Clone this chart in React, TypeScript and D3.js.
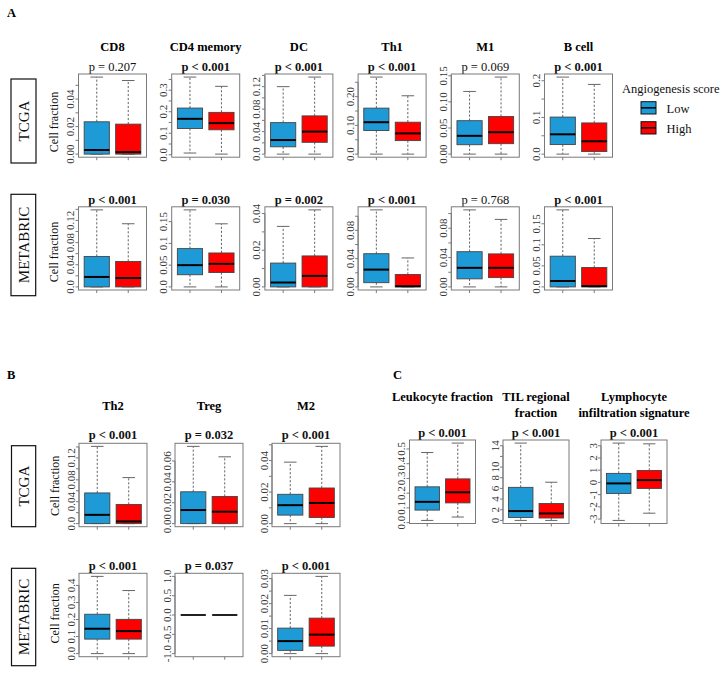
import React from "react";
import * as d3 from "d3";

// ---------------- DATA ----------------
// stats per group: [lower whisker, Q1, median, Q3, upper whisker]
const groupNames = ["Low", "High"];
const legendTitle = "Angiogenesis score";

// Panel A
const cellsA = ["CD8", "CD4 memory", "DC", "Th1", "M1", "B cell"];
const pA_tcga = ["p = 0.207", "p < 0.001", "p < 0.001", "p < 0.001", "p = 0.069", "p < 0.001"];
const lowA_tcga = [
  [0, 0, 0.003, 0.0235, 0.056],
  [0.008, 0.122, 0.167, 0.217, 0.361],
  [0, 0.013, 0.025, 0.056, 0.12],
  [0, 0.082, 0.111, 0.16, 0.268],
  [0, 0.018, 0.035, 0.064, 0.12],
  [0, 0.026, 0.054, 0.101, 0.21],
];
const highA_tcga = [
  [0, 0, 0.0015, 0.0218, 0.0535],
  [0.003, 0.116, 0.147, 0.197, 0.318],
  [0, 0.021, 0.04, 0.068, 0.137],
  [0, 0.047, 0.072, 0.111, 0.203],
  [0, 0.02, 0.042, 0.072, 0.1475],
  [0, 0.007, 0.035, 0.085, 0.19],
];
const ticksA_tcga = [
  [0, 0.01, 0.02, 0.03, 0.04, 0.05],
  [0, 0.05, 0.1, 0.15, 0.2, 0.25, 0.3, 0.35],
  [0, 0.02, 0.04, 0.06, 0.08, 0.1, 0.12, 0.14],
  [0, 0.05, 0.1, 0.15, 0.2, 0.25],
  [0, 0.05, 0.1, 0.15],
  [0, 0.05, 0.1, 0.15, 0.2],
];
const tickLabelsA_tcga = [
  ["0.00", "", "0.02", "", "0.04", ""],
  ["0.0", "", "0.1", "", "0.2", "", "0.3", ""],
  ["0.0", "", "0.04", "", "0.08", "", "0.12", ""],
  ["0.0", "", "0.10", "", "0.20", ""],
  ["0.00", "0.05", "0.10", "0.15"],
  ["0.0", "", "0.1", "", "0.2"],
];

const pA_meta = ["p < 0.001", "p = 0.030", "p = 0.002", "p < 0.001", "p = 0.768", "p < 0.001"];
const lowA_meta = [
  [0, 0, 0.018, 0.055, 0.139],
  [0, 0.028, 0.05, 0.088, 0.177],
  [0, 0, 0.0024, 0.013, 0.033],
  [0, 0.006, 0.0245, 0.047, 0.109],
  [0, 0.011, 0.026, 0.048, 0.105],
  [0, 0, 0.014, 0.073, 0.183],
];
const highA_meta = [
  [0, 0, 0.016, 0.046, 0.114],
  [0, 0.033, 0.053, 0.078, 0.145],
  [0, 0, 0.006, 0.0169, 0.042],
  [0, 0, 0.001, 0.0175, 0.041],
  [0, 0.0127, 0.026, 0.045, 0.092],
  [0, 0, 0.002, 0.046, 0.115],
];
const ticksA_meta = [
  [0, 0.02, 0.04, 0.06, 0.08, 0.1, 0.12, 0.14],
  [0, 0.05, 0.1, 0.15],
  [0, 0.01, 0.02, 0.03, 0.04],
  [0, 0.02, 0.04, 0.06, 0.08, 0.1],
  [0, 0.02, 0.04, 0.06, 0.08, 0.1],
  [0, 0.05, 0.1, 0.15],
];
const tickLabelsA_meta = [
  ["0.0", "", "0.04", "", "0.08", "", "0.12", ""],
  ["0.0", "0.05", "0.1", "0.15"],
  ["0.00", "", "0.02", "", "0.04"],
  ["0.00", "", "0.04", "", "0.08", ""],
  ["0.00", "", "0.04", "", "0.08", ""],
  ["0.0", "0.05", "0.1", "0.15"],
];

// Panel B
const cellsB = ["Th2", "Treg", "M2"];
const pB_tcga = ["p < 0.001", "p = 0.032", "p < 0.001"];
const lowB_tcga = [
  [0, 0, 0.016, 0.056, 0.141],
  [0, 0, 0.013, 0.0305, 0.074],
  [0, 0.0054, 0.0117, 0.0186, 0.039],
];
const highB_tcga = [
  [0, 0, 0.004, 0.035, 0.084],
  [0, 0, 0.0114, 0.026, 0.064],
  [0, 0.0039, 0.0131, 0.0226, 0.049],
];
const ticksB_tcga = [
  [0, 0.02, 0.04, 0.06, 0.08, 0.1, 0.12, 0.14],
  [0, 0.02, 0.04, 0.06],
  [0, 0.01, 0.02, 0.03, 0.04, 0.05],
];
const tickLabelsB_tcga = [
  ["0.0", "", "0.04", "", "0.08", "", "0.12", ""],
  ["0.00", "0.02", "0.04", "0.06"],
  ["0.00", "", "0.02", "", "0.04", ""],
];

const pB_meta = ["p < 0.001", "p = 0.037", "p < 0.001"];
const lowB_meta = [
  [0, 0.085, 0.146, 0.231, 0.453],
  [0, 0, 0, 0, 0],
  [0, 0.0013, 0.005, 0.0102, 0.0233],
];
const highB_meta = [
  [0, 0.085, 0.132, 0.201, 0.37],
  [0, 0, 0, 0, 0],
  [0, 0.003, 0.0076, 0.0142, 0.0309],
];
const ylimB_meta = [null, [-1, 1], null];
const ticksB_meta = [
  [0, 0.1, 0.2, 0.3, 0.4],
  [-1, -0.5, 0, 0.5, 1],
  [0, 0.005, 0.01, 0.015, 0.02, 0.025, 0.03],
];
const tickLabelsB_meta = [
  ["0.0", "0.1", "0.2", "0.3", "0.4"],
  ["-1.0", "-0.5", "0.0", "0.5", "1.0"],
  ["0.00", "", "0.01", "", "0.02", "", "0.03"],
];

// Panel C
const cellsC = [["Leukocyte fraction"], ["TIL regional", "fraction"], ["Lymphocyte", "infiltration signature"]];
const pC = ["p < 0.001", "p < 0.001", "p < 0.001"];
const lowC = [
  [0.015, 0.085, 0.141, 0.243, 0.476],
  [0, 0.56, 1.75, 6.2, 14.5],
  [-3.11, -0.9, -0.08, 0.74, 3.22],
];
const highC = [
  [0.038, 0.134, 0.206, 0.297, 0.54],
  [0, 0.45, 1.3, 3.17, 7.16],
  [-2.52, -0.49, 0.19, 0.98, 3.16],
];
const ticksC = [
  [0, 0.1, 0.2, 0.3, 0.4, 0.5],
  [0, 2, 4, 6, 8, 10, 12, 14],
  [-3, -2, -1, 0, 1, 2, 3],
];
const tickLabelsC = [
  ["0.0", "0.1", "0.2", "0.3", "0.4", "0.5"],
  ["0", "2", "4", "6", "8", "10", "", "14"],
  ["-3", "-2", "-1", "0", "1", "2", "3"],
];

// ---------------- STYLE ----------------
const FONT = "'Liberation Serif', 'Times New Roman', Times, serif";
const BLUE = "#1E9BD7";
const RED = "#FF0000";
const FRAME = "#7a7a7a";
const colors = [BLUE, RED];

type BoxProps = {
  x: number; y: number; w: number; h: number;
  low: number[]; high: number[];
  ticks: number[]; labels: string[];
  ylim?: number[] | null;
};

function BoxPanel({ x, y, w, h, low, high, ticks, labels, ylim }: BoxProps) {
  const lo = ylim ? ylim[0] : Math.min(low[0], high[0]);
  const hi = ylim ? ylim[1] : Math.max(low[4], high[4]);
  const r = hi - lo;
  const d0 = lo - 0.04 * r;
  const d1 = hi + 0.04 * r;
  const ys = d3.scaleLinear().domain([d0, d1]).range([y + h, y]);
  const xs = d3.scaleLinear().domain([0.42, 2.58]).range([x, x + w]);
  const inTicks = ticks.map((t, i) => ({ t, l: labels[i] })).filter((d) => d.t >= d0 - 1e-9 && d.t <= d1 + 1e-9);
  const groups = [low, high];
  const tickFirst = ys(inTicks[0].t);
  const tickLast = ys(inTicks[inTicks.length - 1].t);
  return (
    <g>
      {groups.map((s, i) => {
        const c = i + 1;
        const bx0 = xs(c - 0.4);
        const bx1 = xs(c + 0.4);
        const sx0 = xs(c - 0.2);
        const sx1 = xs(c + 0.2);
        const cx = xs(c);
        const degenerate = s[3] - s[1] === 0 && s[4] - s[0] === 0;
        return (
          <g key={i}>
            {!degenerate && (
              <>
                <line x1={cx} x2={cx} y1={ys(s[3])} y2={ys(s[4])} stroke="#555" strokeWidth={0.9} strokeDasharray="2.2,1.8" />
                <line x1={cx} x2={cx} y1={ys(s[1])} y2={ys(s[0])} stroke="#555" strokeWidth={0.9} strokeDasharray="2.2,1.8" />
                <line x1={sx0} x2={sx1} y1={ys(s[4])} y2={ys(s[4])} stroke="#666" strokeWidth={1} />
                <line x1={sx0} x2={sx1} y1={ys(s[0])} y2={ys(s[0])} stroke="#666" strokeWidth={1} />
                <rect x={bx0} y={ys(s[3])} width={bx1 - bx0} height={Math.max(0, ys(s[1]) - ys(s[3]))} fill={colors[i]} stroke="#444" strokeWidth={0.9} />
              </>
            )}
            <line x1={bx0} x2={bx1} y1={ys(s[2])} y2={ys(s[2])} stroke={degenerate ? "#222" : "#000"} strokeWidth={2} />
            <line x1={cx} x2={cx} y1={y + h} y2={y + h + 3} stroke={FRAME} strokeWidth={1} />
          </g>
        );
      })}
      <rect x={x} y={y} width={w} height={h} fill="none" stroke={FRAME} strokeWidth={1} />
      <line x1={x} x2={x} y1={tickFirst} y2={tickLast} stroke={FRAME} strokeWidth={1} />
      {inTicks.map((d, i) => (
        <g key={i}>
          <line x1={x - 3} x2={x} y1={ys(d.t)} y2={ys(d.t)} stroke={FRAME} strokeWidth={1} />
          {d.l !== "" && (
            <text transform={`translate(${x - 4.5},${ys(d.t)}) rotate(-90)`} textAnchor="middle" fontSize={11} fill="#333" fontFamily={FONT}>
              {d.l}
            </text>
          )}
        </g>
      ))}
    </g>
  );
}

function PText({ x, y, t }: { x: number; y: number; t: string }) {
  const sig = t.includes("<") || parseFloat(t.split("=")[1]) < 0.05;
  return (
    <text x={x} y={y} textAnchor="middle" fontSize={12.5} fontWeight={sig ? "bold" : "normal"} fontFamily={FONT} fill="#111">
      {t}
    </text>
  );
}

function RowLabel({ x, y, w, h, t }: { x: number; y: number; w: number; h: number; t: string }) {
  return (
    <g>
      <rect x={x} y={y} width={w} height={h} fill="none" stroke="#111" strokeWidth={1.2} />
      <text transform={`translate(${x + w / 2},${y + h / 2}) rotate(-90)`} dy="0.35em" textAnchor="middle" fontSize={15} fontFamily={FONT} fill="#111">
        {t}
      </text>
    </g>
  );
}

function YLab({ x, y }: { x: number; y: number }) {
  return (
    <text transform={`translate(${x},${y}) rotate(-90)`} dy="0.35em" textAnchor="middle" fontSize={12} fontFamily={FONT} fill="#111">
      Cell fraction
    </text>
  );
}

export default function App() {
  const W = 728;
  const H = 673;
  const aLefts = cellsA.map((_, i) => 78.5 + i * 93.2);
  const aW = 68;
  const aTopT = 74, aTopM = 206.8, aH = 83.2;
  const bLefts = [79, 175, 272];
  const bW = 68;
  const bTopT = 443.3, bTopM = 573.3, bH = 83.4;
  const cLefts = [409.5, 503, 601];
  const cW = 66;
  const cTop = 440, cH = 83.5;

  return (
    <div style={{ position: "absolute", left: 0, top: 0, background: "#fff" }}>
      <svg width={W} height={H} style={{ display: "block" }}>
        <rect x={0} y={0} width={W} height={H} fill="#fff" />
        {/* Panel letters */}
        <text x={7} y={16.5} fontSize={12.5} fontWeight="bold" fontFamily={FONT}>A</text>
        <text x={7} y={379} fontSize={12.5} fontWeight="bold" fontFamily={FONT}>B</text>
        <text x={393} y={379} fontSize={12.5} fontWeight="bold" fontFamily={FONT}>C</text>

        {/* Panel A */}
        <RowLabel x={11} y={79} w={25} h={84} t="TCGA" />
        <RowLabel x={11} y={194.3} w={24.7} h={101.4} t="METABRIC" />
        <YLab x={53.3} y={122} />
        <YLab x={53.3} y={252} />
        {cellsA.map((c, i) => (
          <g key={"a" + i}>
            <text x={aLefts[i] + aW / 2} y={51.2} textAnchor="middle" fontSize={12.5} fontWeight="bold" fontFamily={FONT}>{c}</text>
            <PText x={aLefts[i] + aW / 2} y={71} t={pA_tcga[i]} />
            <BoxPanel x={aLefts[i]} y={aTopT} w={aW} h={aH} low={lowA_tcga[i]} high={highA_tcga[i]} ticks={ticksA_tcga[i]} labels={tickLabelsA_tcga[i]} />
            <PText x={aLefts[i] + aW / 2} y={203.5} t={pA_meta[i]} />
            <BoxPanel x={aLefts[i]} y={aTopM} w={aW} h={aH} low={lowA_meta[i]} high={highA_meta[i]} ticks={ticksA_meta[i]} labels={tickLabelsA_meta[i]} />
          </g>
        ))}

        {/* Legend */}
        <text x={622} y={92.5} fontSize={12.5} fontFamily={FONT} fill="#111">{legendTitle}</text>
        {groupNames.map((g, i) => (
          <g key={g}>
            <rect x={641} y={101.7 + i * 20} width={15} height={12.3} fill={colors[i]} stroke="#111" strokeWidth={1} />
            <line x1={641} x2={656} y1={107.85 + i * 20} y2={107.85 + i * 20} stroke="#000" strokeWidth={1.5} />
            <text x={666.5} y={112.5 + i * 20} fontSize={12.5} fontFamily={FONT} fill="#111">{g}</text>
          </g>
        ))}

        {/* Panel B */}
        <RowLabel x={11.5} y={445.7} w={24.2} h={81} t="TCGA" />
        <RowLabel x={11.5} y={568.3} w={24.2} h={97.4} t="METABRIC" />
        <YLab x={55} y={485.8} />
        <YLab x={55} y={613.3} />
        {cellsB.map((c, i) => (
          <g key={"b" + i}>
            <text x={bLefts[i] + bW / 2} y={409.5} textAnchor="middle" fontSize={12.5} fontWeight="bold" fontFamily={FONT}>{c}</text>
            <PText x={bLefts[i] + bW / 2} y={439} t={pB_tcga[i]} />
            <BoxPanel x={bLefts[i]} y={bTopT} w={bW} h={bH} low={lowB_tcga[i]} high={highB_tcga[i]} ticks={ticksB_tcga[i]} labels={tickLabelsB_tcga[i]} />
            <PText x={bLefts[i] + bW / 2} y={569.5} t={pB_meta[i]} />
            <BoxPanel x={bLefts[i]} y={bTopM} w={bW} h={bH} low={lowB_meta[i]} high={highB_meta[i]} ticks={ticksB_meta[i]} labels={tickLabelsB_meta[i]} ylim={ylimB_meta[i]} />
          </g>
        ))}

        {/* Panel C */}
        {cellsC.map((lines, i) => (
          <g key={"c" + i}>
            {lines.map((ln, j) => (
              <text key={j} x={cLefts[i] + cW / 2} y={401.2 + j * 15.6} textAnchor="middle" fontSize={12.5} fontWeight="bold" fontFamily={FONT}>{ln}</text>
            ))}
            <PText x={cLefts[i] + cW / 2} y={436.8} t={pC[i]} />
            <BoxPanel x={cLefts[i]} y={cTop} w={cW} h={cH} low={lowC[i]} high={highC[i]} ticks={ticksC[i]} labels={tickLabelsC[i]} />
          </g>
        ))}
      </svg>
    </div>
  );
}
